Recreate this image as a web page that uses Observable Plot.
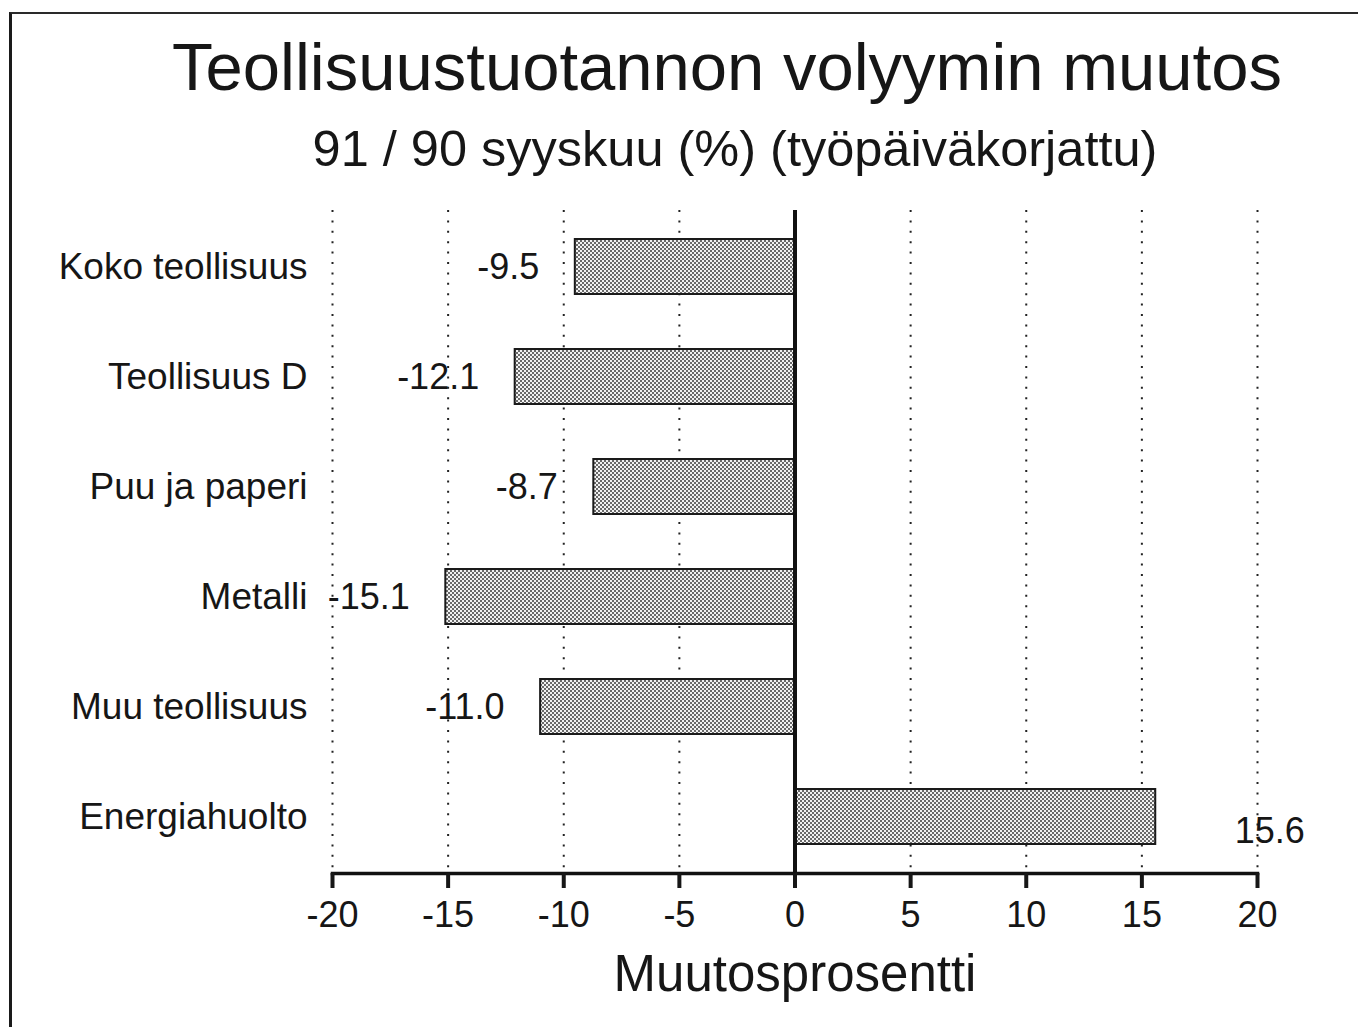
<!DOCTYPE html>
<html>
<head>
<meta charset="utf-8">
<script src="https://cdn.jsdelivr.net/npm/d3@7"></script>
<script src="https://cdn.jsdelivr.net/npm/@observablehq/plot@0.6"></script>
<style>
  html, body { margin: 0; padding: 0; background: #fff; }
  #wrap { position: relative; width: 1358px; height: 1027px; overflow: hidden; font-family: "Liberation Sans", Arial, Helvetica, sans-serif; color: #161616; }
  #frame { position: absolute; left: 9px; top: 12px; width: 1400px; height: 1100px; border-top: 2px solid #2a2a2a; border-left: 3px solid #1a1a1a; }
  .t { position: absolute; left: 0; width: 100%; text-align: center; line-height: 1; white-space: nowrap; }
  #title { font-size: 67px; top: 33px; transform: translateX(48px); }
  #subtitle { font-size: 50.5px; top: 124px; transform: translateX(56px); }
  #chart { position: absolute; left: 0; top: 0; }
</style>
</head>
<body>
<div id="wrap">
  <div id="frame"></div>
  <div id="chart"></div>
  <div class="t" id="title">Teollisuustuotannon volyymin muutos</div>
  <div class="t" id="subtitle">91 / 90 syyskuu (%) (työpäiväkorjattu)</div>
</div>
<script>
const categories = ["Koko teollisuus", "Teollisuus D", "Puu ja paperi", "Metalli", "Muu teollisuus", "Energiahuolto"];
const values = [-9.5, -12.1, -8.7, -15.1, -11.0, 15.6];
const labels = ["-9.5", "-12.1", "-8.7", "-15.1", "-11.0", "15.6"];
const xTicks = [-20, -15, -10, -5, 0, 5, 10, 15, 20];
const gridTicks = [-20, -15, -10, -5, 5, 10, 15, 20];
const axisTitle = "Muutosprosentti";

const data = categories.map((c, i) => ({category: c, value: values[i], label: labels[i]}));
const font = '"Liberation Sans", Arial, Helvetica, sans-serif';

const chart = Plot.plot({
  width: 1358,
  height: 1027,
  marginTop: 210,
  marginBottom: 154,
  marginLeft: 332,
  marginRight: 101,
  style: {fontFamily: font, color: "#161616", background: "transparent"},
  x: {domain: [-20, 20]},
  y: {domain: categories, paddingInner: 0.5, paddingOuter: 0.25},
  marks: [
    Plot.ruleX(gridTicks, {stroke: "#222", strokeWidth: 2, strokeDasharray: "2,8.4"}),
    Plot.barX(data, {x: "value", y: "category", fill: "url(#stipple)", stroke: "#1a1a1a", strokeWidth: 2}),
    Plot.ruleX([0], {stroke: "#111", strokeWidth: 4}),
    Plot.frame({anchor: "bottom", stroke: "#111", strokeWidth: 3.5}),
    Plot.axisX({ticks: xTicks, tickSize: 15, tickPadding: 13, strokeWidth: 4, fontSize: 36, label: null, tickFormat: d => String(d)}),
    Plot.axisY({tickSize: 0, tickPadding: 25, fontSize: 37, label: null}),
    Plot.text(data.filter(d => d.value < 0), {x: "value", y: "category", text: "label", textAnchor: "end", dx: -36, fontSize: 36}),
    Plot.text(data.filter(d => d.value >= 0), {x: "value", y: "category", text: "label", textAnchor: "start", dx: 79, dy: 14, fontSize: 36}),
    Plot.text([0], {x: d => d, frameAnchor: "bottom", text: () => axisTitle, dy: 117, fontSize: 51})
  ]
});

// stipple pattern for bars
const ns = "http://www.w3.org/2000/svg";
const defs = document.createElementNS(ns, "defs");
const pat = document.createElementNS(ns, "pattern");
pat.setAttribute("id", "stipple");
pat.setAttribute("patternUnits", "userSpaceOnUse");
pat.setAttribute("width", "4");
pat.setAttribute("height", "4");
const bg = document.createElementNS(ns, "rect");
bg.setAttribute("width", "4"); bg.setAttribute("height", "4"); bg.setAttribute("fill", "#f2f2f2");
pat.appendChild(bg);
[[1, 1], [3, 3]].forEach(([cx, cy]) => {
  const c = document.createElementNS(ns, "circle");
  c.setAttribute("cx", cx); c.setAttribute("cy", cy); c.setAttribute("r", "1"); c.setAttribute("fill", "#3c3c3c");
  pat.appendChild(c);
});
defs.appendChild(pat);
chart.insertBefore(defs, chart.firstChild);

document.getElementById("chart").appendChild(chart);
</script>
</body>
</html>
